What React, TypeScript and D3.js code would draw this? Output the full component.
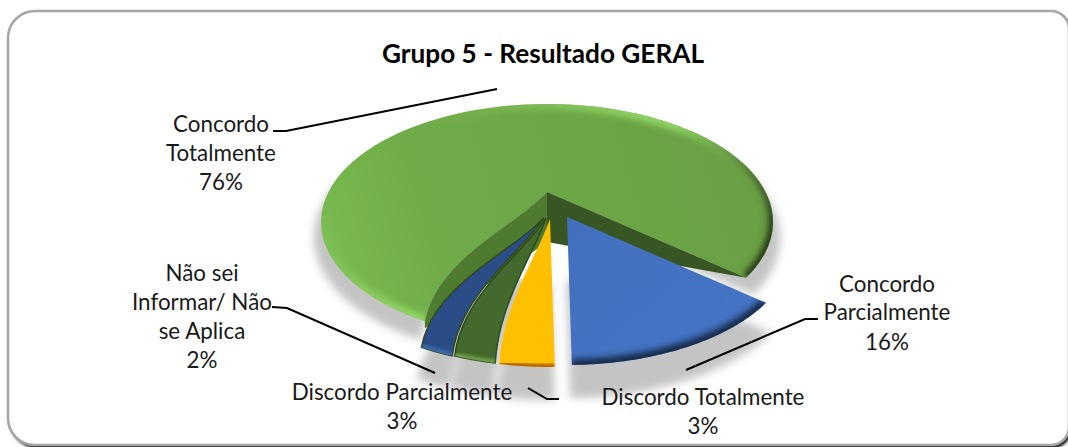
import React from 'react'
import * as d3 from 'd3'

const width = 1068
const height = 447

const categories = ['Concordo Totalmente', 'Concordo Parcialmente', 'Discordo Totalmente', 'Discordo Parcialmente', 'Não sei Informar/ Não se Aplica']
const printedPercent = [76, 16, 3, 3, 2]
// sector sizes as they appear in the drawing, the perspective squeezes them
const drawnShare = [79.2, 13.5, 3.05, 2.35, 1.95]

const sliceFill = ['url(#greenTop)', 'url(#blueTop)', '#ffc000', '#43692c', '#2a4d87']
const rimStroke = [['url(#greenRimLeft)', 'url(#greenRimRight)'], ['#16294a'], ['#b86400'], ['#6d9c4c'], ['#3d68ad']]
const explode: [number, number][] = [[0, 0], [20, 25], [3, 27], [-1, 26], [-3.5, 26]]
const drawOrder = [0, 4, 3, 2, 1]

const labelLines: { text: string; x: number; y: number }[][] = [
  [{ text: 'Concordo', x: 221, y: 132 }, { text: 'Totalmente', x: 221, y: 161 }, { text: `${printedPercent[0]}%`, x: 221, y: 190 }],
  [{ text: 'Concordo', x: 887, y: 292 }, { text: 'Parcialmente', x: 887, y: 320 }, { text: `${printedPercent[1]}%`, x: 887, y: 350 }],
  [{ text: 'Discordo Totalmente', x: 703, y: 405 }, { text: `${printedPercent[2]}%`, x: 703, y: 434 }],
  [{ text: 'Discordo Parcialmente', x: 402, y: 400 }, { text: `${printedPercent[3]}%`, x: 402, y: 429 }],
  [{ text: 'Não sei', x: 202, y: 281 }, { text: 'Informar/ Não', x: 202, y: 310 }, { text: 'se Aplica', x: 202, y: 339 }, { text: `${printedPercent[4]}%`, x: 202, y: 368 }],
]

const leaders: [number, number][][] = [
  [[273, 131], [286, 131], [497, 89]],
  [[686, 370], [805, 319], [818, 319]],
  [[528, 388], [547, 399], [559, 399]],
  [[435, 373], [287, 308], [272, 307]],
]

// disc projection
const cx = 547
const cy = 192
const W = 218.6
const H = 110.4
const K = 0.254
const toRad = Math.PI / 180

const project = (a: number, r: number): [number, number] => {
  const w = 1 + K * r * Math.cos(a)
  return [(W * r * Math.sin(a)) / w, (-H * r * Math.cos(a)) / w]
}

// edges left of the front bow outwards in the original render
const bent = (a: number, r: number) => {
  const n = ((a % (2 * Math.PI)) + 2 * Math.PI) % (2 * Math.PI)
  const off = n > Math.PI && n < Math.PI * 1.3 ? (n - Math.PI) * 0.28 * 4 * r * (1 - r) : 0
  return a + off
}

const sampleSlice = (a0: number, a1: number, r0 = 0, scale = 1) => {
  const radial = d3.range(0, 21).map(i => r0 + ((1 - r0) * i) / 20)
  const rim = d3.range(0, 81).map(i => a0 + ((a1 - a0) * i) / 80)
  const pts: [number, number][] = []
  radial.forEach(r => pts.push(project(bent(a0, r), r * scale)))
  rim.forEach(a => pts.push(project(a, scale)))
  radial.slice().reverse().forEach(r => pts.push(project(bent(a1, r), r * scale)))
  return pts
}

const line = d3.line<[number, number]>().x(d => d[0]).y(d => d[1])

export default function App() {
  const arcs = d3.pie<number>().sort(null).startAngle(205.5 * toRad).endAngle(565.5 * toRad)(drawnShare)

  const framePath = 'M35,11 H1051 A18,18 0 0 1 1069,29 V427 A18,18 0 0 1 1051,445 H35 A27,27 0 0 1 8,418 V38 A27,27 0 0 1 35,11 Z'

  // walls of the big slice, seen through the gap the other slices leave
  const greenStart = arcs[0].startAngle
  const greenEnd = arcs[0].endAngle
  const wallDepth = 50
  const leftEdge = d3.range(0, 21).map(i => project(bent(greenStart, i / 20), i / 20))
  const leftRim = leftEdge[20]
  const leftWall = line([...leftEdge, [leftRim[0], leftRim[1] + 7], [0, wallDepth]])
  const rightEnd = project(greenEnd, 1)
  const rightWall = line([[0, 0], rightEnd, [0, wallDepth]])

  return (
    <svg width={width} height={height} viewBox={`0 0 ${width} ${height}`} style={{ position: 'absolute', left: 0, top: 0, background: '#fff' }}>
      <defs>
        <filter id="blurFrame" x="-5%" y="-5%" width="110%" height="110%"><feGaussianBlur stdDeviation="1.6" /></filter>
        <filter id="blurShadow" x="-10%" y="-20%" width="120%" height="140%"><feGaussianBlur stdDeviation="4" /></filter>
        <filter id="blurRim" x="-20%" y="-20%" width="140%" height="140%"><feGaussianBlur stdDeviation="3" /></filter>
        <filter id="blurRimSmall" x="-30%" y="-30%" width="160%" height="160%"><feGaussianBlur stdDeviation="1.5" /></filter>
        {/* gradients sit in the local space of the translated slice */}
        <linearGradient id="greenTop" gradientUnits="userSpaceOnUse" x1="-227" y1="90" x2="226" y2="-40">
          <stop offset="0" stopColor="#7abd50" />
          <stop offset="0.25" stopColor="#6fac48" />
          <stop offset="1" stopColor="#689f43" />
        </linearGradient>
        <linearGradient id="greenRimLeft" gradientUnits="userSpaceOnUse" x1="-215" y1="10" x2="-130" y2="110">
          <stop offset="0" stopColor="#92d466" stopOpacity="0" />
          <stop offset="1" stopColor="#92d466" stopOpacity="1" />
        </linearGradient>
        <linearGradient id="greenRimRight" gradientUnits="userSpaceOnUse" x1="130" y1="-70" x2="225" y2="40">
          <stop offset="0" stopColor="#263d17" stopOpacity="0" />
          <stop offset="1" stopColor="#263d17" stopOpacity="1" />
        </linearGradient>
        <linearGradient id="blueTop" gradientUnits="userSpaceOnUse" x1="0" y1="0" x2="130" y2="150">
          <stop offset="0" stopColor="#4270bd" />
          <stop offset="1" stopColor="#4674c6" />
        </linearGradient>
        {arcs.map((d, i) => (
          <clipPath id={`slice-${i}`} key={i}>
            <path d={line(sampleSlice(d.startAngle, d.endAngle)) ?? ''} />
          </clipPath>
        ))}
      </defs>

      <path d={framePath} transform="translate(2,3)" fill="#000" filter="url(#blurFrame)" />
      <path d={framePath} fill="#fff" stroke="#a6a6a6" strokeWidth={2.6} />

      <text x={543} y={63} textAnchor="middle" fontFamily="Lato" fontWeight={700} fontSize={26.2} fill="#000">Grupo 5 - Resultado GERAL</text>

      <g filter="url(#blurShadow)" fill="#c4c4c4">
        {arcs.map((d, i) => (
          <path
            key={categories[i]}
            transform={`translate(${cx + explode[i][0] * 0.9},${cy + explode[i][1] + (i === 0 ? 14 : 27)})`}
            d={line(sampleSlice(d.startAngle, d.endAngle, i === 0 ? 0 : 0.3, 1.03)) ?? ''}
          />
        ))}
      </g>

      {drawOrder.map(i => {
        const d = arcs[i]
        const outline = line(sampleSlice(d.startAngle, d.endAngle)) ?? ''
        const rimOnly = line(d3.range(0, 81).map(j => project(d.startAngle + ((d.endAngle - d.startAngle) * j) / 80, 1))) ?? ''
        const big = i < 2
        return (
          <g key={categories[i]} transform={`translate(${cx + explode[i][0]},${cy + explode[i][1]})`}>
            {/* the two dark slices get a hairline so no white shows between them */}
            <path d={outline} fill={sliceFill[i]} stroke={i >= 3 ? '#2f4a1d' : 'none'} strokeWidth={i >= 3 ? 1.5 : 0} />
            {/* bevel along the outer edge */}
            <g clipPath={`url(#slice-${i})`}>
              {rimStroke[i].map(s => (
                <path
                  key={s}
                  d={rimOnly}
                  fill="none"
                  stroke={s}
                  strokeWidth={big ? 12 : 7}
                  filter={big ? 'url(#blurRim)' : 'url(#blurRimSmall)'}
                />
              ))}
            </g>
            {i === 0 && <path d={leftWall ?? ''} fill="#4f7b30" />}
            {i === 0 && <path d={rightWall ?? ''} fill="#375623" />}
          </g>
        )
      })}

      <g fill="none" stroke="#000" strokeWidth={2}>
        {leaders.map((pts, i) => <path key={i} d={line(pts) ?? ''} />)}
      </g>

      <g fontFamily="Lato" fontSize={22.4} fill="#1a1a1a" textAnchor="middle">
        {labelLines.flat().map((t, i) => (
          <text key={i} x={t.x} y={t.y}>{t.text}</text>
        ))}
      </g>
    </svg>
  )
}
